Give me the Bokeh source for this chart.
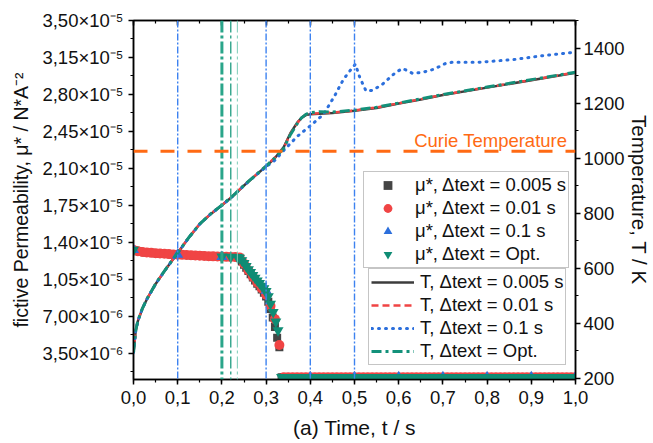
import numpy as np
from bokeh.plotting import figure
from bokeh.models import (Range1d, LinearAxis, FixedTicker, Span, Label,
                          Legend, LegendItem)
from bokeh.embed import file_html
from bokeh.resources import INLINE

# ---------------- data ----------------
MU0 = 1.257e-6   # plateau value above Curie temperature

# mu*, dt = 0.005 s  (t = 0 ... 0.33 in 0.005 steps)
mu_005_pre = [1.330, 1.322, 1.317, 1.313, 1.310, 1.308, 1.306, 1.304, 1.302, 1.300,
              1.299, 1.297, 1.296, 1.294, 1.293, 1.291, 1.290, 1.289, 1.287, 1.286,
              1.285, 1.284, 1.283, 1.282, 1.281, 1.280, 1.279, 1.278, 1.277, 1.276,
              1.275, 1.274, 1.273, 1.272, 1.271, 1.270, 1.269, 1.268, 1.267, 1.266,
              1.265, 1.264, 1.264, 1.263, 1.263, 1.262, 1.262, 1.261, 1.255,
              1.220, 1.190, 1.160, 1.130, 1.100, 1.070, 1.040, 1.010, 0.985, 0.955,
              0.925, 0.890, 0.840, 0.770, 0.690, 0.600, 0.500, 0.410]
# mu*, dt = 0.01 s (t = 0 ... 0.33 in 0.01 steps)
mu_001_pre = [1.330, 1.317, 1.310, 1.306, 1.302, 1.299, 1.296, 1.293, 1.290, 1.287,
              1.285, 1.283, 1.281, 1.279, 1.277, 1.275, 1.273, 1.271, 1.269, 1.267,
              1.265, 1.264, 1.263, 1.262, 1.258, 1.200, 1.135, 1.075, 1.020, 0.965,
              0.905, 0.800, 0.675, 0.430]
# mu*, dt = 0.1 s
t_01_pre = [0.0, 0.1, 0.2, 0.3]
mu_01_pre = [1.330, 1.285, 1.265, 0.946]
# mu*, dt = Opt.
t_opt_pre = [0.0, 0.2, 0.22, 0.235, 0.24, 0.245, 0.25, 0.255, 0.26, 0.265, 0.27,
             0.275, 0.28, 0.285, 0.29, 0.295, 0.3, 0.305, 0.31, 0.316, 0.322, 0.327]
mu_opt_pre = [1.330, 1.265, 1.263, 1.261, 1.255, 1.230, 1.205, 1.175, 1.145, 1.120,
              1.090, 1.065, 1.040, 1.015, 0.990, 0.965, 0.940, 0.890, 0.820, 0.740,
              0.650, 0.568]

# Temperature curves (right axis)
T_t = [0, 0.005, 0.01, 0.02, 0.03, 0.05, 0.075, 0.1, 0.125, 0.15, 0.175, 0.2, 0.225,
       0.25, 0.275, 0.3, 0.32, 0.34, 0.355, 0.37, 0.38, 0.39, 0.4, 0.42, 0.45, 0.5,
       0.55, 0.6, 0.65, 0.7, 0.8, 0.9, 1.0]
T_005 = [293, 372, 408, 452, 486, 542, 600, 655, 710, 760, 797, 828, 862, 900, 935,
         970, 1000, 1040, 1090, 1128, 1146, 1156, 1159, 1161, 1164, 1172, 1182, 1198,
         1213, 1229, 1256, 1283, 1310]
T_001 = [293, 373, 409, 453, 487, 543, 601, 656, 711, 761, 798, 829, 863, 901, 936,
         971, 1002, 1038, 1088, 1126, 1147, 1158, 1161, 1163, 1165, 1173, 1184, 1199,
         1214, 1230, 1257, 1284, 1311]
T_opt = [293, 373, 409, 453, 487, 543, 601, 656, 711, 761, 798, 829, 863, 901, 936,
         971, 1001, 1036, 1085, 1124, 1146, 1159, 1165, 1168, 1167, 1174, 1185, 1200,
         1215, 1231, 1258, 1285, 1312]
T_t_01 = [0, 0.005, 0.01, 0.02, 0.03, 0.05, 0.075, 0.1, 0.125, 0.15, 0.175, 0.2,
          0.225, 0.25, 0.275, 0.3, 0.32, 0.34, 0.37, 0.4, 0.43, 0.455, 0.475, 0.492,
          0.502, 0.512, 0.526, 0.541, 0.563, 0.593, 0.609, 0.631, 0.655, 0.68, 0.706,
          0.72, 0.78, 0.86, 0.93, 1.0]
T_01 = [293, 372, 408, 452, 486, 542, 600, 655, 710, 760, 797, 828, 862, 900, 935,
        968, 992, 1028, 1078, 1117, 1159, 1226, 1286, 1322, 1341, 1293, 1244, 1246,
        1268, 1311, 1326, 1308, 1312, 1323, 1344, 1348, 1348, 1358, 1373, 1385]

T_CURIE = 1025
t_markers_blue = [0.1, 0.3, 0.4, 0.5]
t_markers_green = [0.2, 0.22, 0.235]

x_ticks = [0.0, 0.1, 0.2, 0.3, 0.4, 0.5, 0.6, 0.7, 0.8, 0.9, 1.0]
x_labels = ["0,0", "0,1", "0,2", "0,3", "0,4", "0,5", "0,6", "0,7", "0,8", "0,9", "1,0"]
mu_ticks = [3.5e-6, 7.0e-6, 1.05e-5, 1.4e-5, 1.75e-5, 2.1e-5, 2.45e-5, 2.8e-5, 3.15e-5, 3.5e-5]
mu_labels = ["3,50×10⁻⁶", "7,00×10⁻⁶", "1,05×10⁻⁵", "1,40×10⁻⁵", "1,75×10⁻⁵",
             "2,10×10⁻⁵", "2,45×10⁻⁵", "2,80×10⁻⁵", "3,15×10⁻⁵", "3,50×10⁻⁵"]
T_ticks = [200, 400, 600, 800, 1000, 1200, 1400]

# assemble series (time grids follow the stated step sizes)
t_005 = list(np.round(np.arange(0, 0.3301, 0.005), 4)) + list(np.round(np.arange(0.335, 1.0001, 0.005), 4))
m_005 = [v * 1e-5 for v in mu_005_pre] + [MU0] * (len(t_005) - len(mu_005_pre))
t_001 = list(np.round(np.arange(0, 0.3301, 0.01), 4)) + list(np.round(np.arange(0.34, 1.0001, 0.01), 4))
m_001 = [v * 1e-5 for v in mu_001_pre] + [MU0] * (len(t_001) - len(mu_001_pre))
t_01 = t_01_pre + [0.4, 0.5, 0.6, 0.7, 0.8, 0.9, 1.0]
m_01 = [v * 1e-5 for v in mu_01_pre] + [MU0] * 7
t_opt = t_opt_pre + list(np.round(np.arange(0.335, 1.0001, 0.008), 4))
m_opt = [v * 1e-5 for v in mu_opt_pre] + [MU0] * (len(t_opt) - len(t_opt_pre))

FONT = "Liberation Sans"
C_GREY = "#454545"
C_RED = "#f04444"
C_BLUE = "#2c6fdc"
C_GREEN = "#0f8c74"
C_ORANGE = "#ff6a13"

p = figure(width=653, height=443, x_range=Range1d(0, 1), y_range=Range1d(1.04e-6, 3.5e-5),
           output_backend="svg", toolbar_location=None,
           min_border_left=133, min_border_right=76, min_border_top=20, min_border_bottom=64)
p.extra_y_ranges = {"T": Range1d(195, 1500)}
p.xgrid.visible = False
p.ygrid.visible = False
p.outline_line_color = "black"
p.outline_line_width = 1.5

# markers
r_sq = p.scatter(t_005, m_005, marker="square", size=8, fill_color=C_GREY, line_color=None)
r_ci = p.scatter(t_001, m_001, marker="circle", size=10, fill_color=C_RED, line_color=None)
r_tu = p.scatter(t_01, m_01, marker="triangle", size=11, fill_color=C_BLUE, line_color=None)
r_td = p.scatter(t_opt, m_opt, marker="inverted_triangle", size=11, fill_color=C_GREEN, line_color=None)

# temperature lines
l1 = p.line(T_t, T_005, y_range_name="T", line_color="#3c3c3c", line_width=2.5)
l2 = p.line(T_t, T_001, y_range_name="T", line_color=C_RED, line_width=2.5, line_dash="7 4")
l3 = p.line(T_t_01, T_01, y_range_name="T", line_color=C_BLUE, line_width=3, line_dash="1 6", line_cap="round")
l4 = p.line(T_t, T_opt, y_range_name="T", line_color="#13917a", line_width=3, line_dash="10 4 3 4")

# vertical marker lines
for tv in t_markers_blue:
    p.add_layout(Span(location=tv, dimension="height", line_color="#3d82f0", line_width=1.4,
                      line_dash="7 2 2 2"))
for tv, w, c in zip(t_markers_green, [3, 1.5, 1], ["#2aa58a", "#3aa890", "#7ccbb8"]):
    p.add_layout(Span(location=tv, dimension="height", line_color=c, line_width=w,
                      line_dash="12 3 3 3"))

p.add_layout(Span(location=T_CURIE, dimension="width", y_range_name="T", line_color=C_ORANGE,
                  line_width=3, line_dash="14 13"))
p.add_layout(Label(x=0.635, y=1063, y_range_name="T", text="Curie Temperature",
                   text_font=FONT, text_font_size="18.5px", text_color=C_ORANGE,
                   text_baseline="alphabetic"))

# axes
def style_axis(ax):
    ax.axis_line_color = "black"
    ax.axis_line_width = 1.5
    ax.major_tick_line_color = "black"
    ax.minor_tick_line_color = "black"
    ax.major_tick_line_width = 1.5
    ax.minor_tick_line_width = 1.2
    ax.major_tick_in = 0
    ax.major_tick_out = 5
    ax.minor_tick_in = 0
    ax.minor_tick_out = 3
    ax.major_label_text_font = FONT
    ax.major_label_text_font_size = "18.5px"
    ax.major_label_text_color = "#111111"
    ax.axis_label_text_font = FONT
    ax.axis_label_text_font_size = "21px"
    ax.axis_label_text_font_style = "normal"
    ax.axis_label_text_color = "#111111"
    ax.major_label_standoff = 5
    ax.axis_label_standoff = 6

xa = p.xaxis[0]
xa.ticker = FixedTicker(ticks=x_ticks, minor_ticks=[round(0.05 * i, 2) for i in range(21)])
xa.major_label_overrides = dict(zip(x_ticks, x_labels))
xa.axis_label = "(a) Time, t / s"
style_axis(xa)
xa.major_label_standoff = 6
xa.axis_label_standoff = 9

ya = p.yaxis[0]
ya.ticker = FixedTicker(ticks=mu_ticks, minor_ticks=[1.75e-6 * i for i in range(1, 21)])
ya.major_label_overrides = dict(zip(mu_ticks, mu_labels))
ya.axis_label = "fictive Permeability, μ* / N*A⁻²"
style_axis(ya)
ya.axis_label_text_font_size = "19.5px"
ya.axis_label_standoff = 7

ra = LinearAxis(y_range_name="T", axis_label="Temperature, T / K",
                ticker=FixedTicker(ticks=T_ticks, minor_ticks=list(range(200, 1501, 100))))
style_axis(ra)
ra.major_label_standoff = 3
ra.axis_label_standoff = 0
ra.axis_label_text_font_size = "20.5px"
p.add_layout(ra, "right")

ta = LinearAxis(ticker=FixedTicker(ticks=x_ticks, minor_ticks=[round(0.05 * i, 2) for i in range(21)]))
style_axis(ta)
ta.major_tick_in = 5
ta.major_tick_out = 0
ta.minor_tick_in = 3
ta.minor_tick_out = 0
ta.major_label_text_font_size = "1px"
ta.major_label_text_color = None
ta.major_label_standoff = 0
p.add_layout(ta, "above")

# legends
def make_legend(items, loc):
    lg = Legend(items=items, location=loc)
    lg.label_text_font = FONT
    lg.label_text_font_size = "18.5px"
    lg.label_text_color = "#111111"
    lg.border_line_color = "#8c8c8c"
    lg.border_line_width = 1
    lg.background_fill_color = "white"
    lg.background_fill_alpha = 1
    lg.padding = 2
    lg.spacing = 1
    lg.label_height = 22
    lg.glyph_height = 22
    lg.glyph_width = 43
    lg.label_standoff = 6
    lg.margin = 0
    return lg

leg1 = make_legend([LegendItem(label="μ*, Δtext = 0.005 s", renderers=[r_sq]),
                    LegendItem(label="μ*, Δtext = 0.01 s", renderers=[r_ci]),
                    LegendItem(label="μ*, Δtext = 0.1 s", renderers=[r_tu]),
                    LegendItem(label="μ*, Δtext = Opt.", renderers=[r_td])], (230, 111))
leg2 = make_legend([LegendItem(label="T, Δtext = 0.005 s", renderers=[l1]),
                    LegendItem(label="T, Δtext = 0.01 s", renderers=[l2]),
                    LegendItem(label="T, Δtext = 0.1 s", renderers=[l3]),
                    LegendItem(label="T, Δtext = Opt.", renderers=[l4])], (235, 14))
p.add_layout(leg1)
p.add_layout(leg2)

open("out.html", "w").write(file_html(p, INLINE))
